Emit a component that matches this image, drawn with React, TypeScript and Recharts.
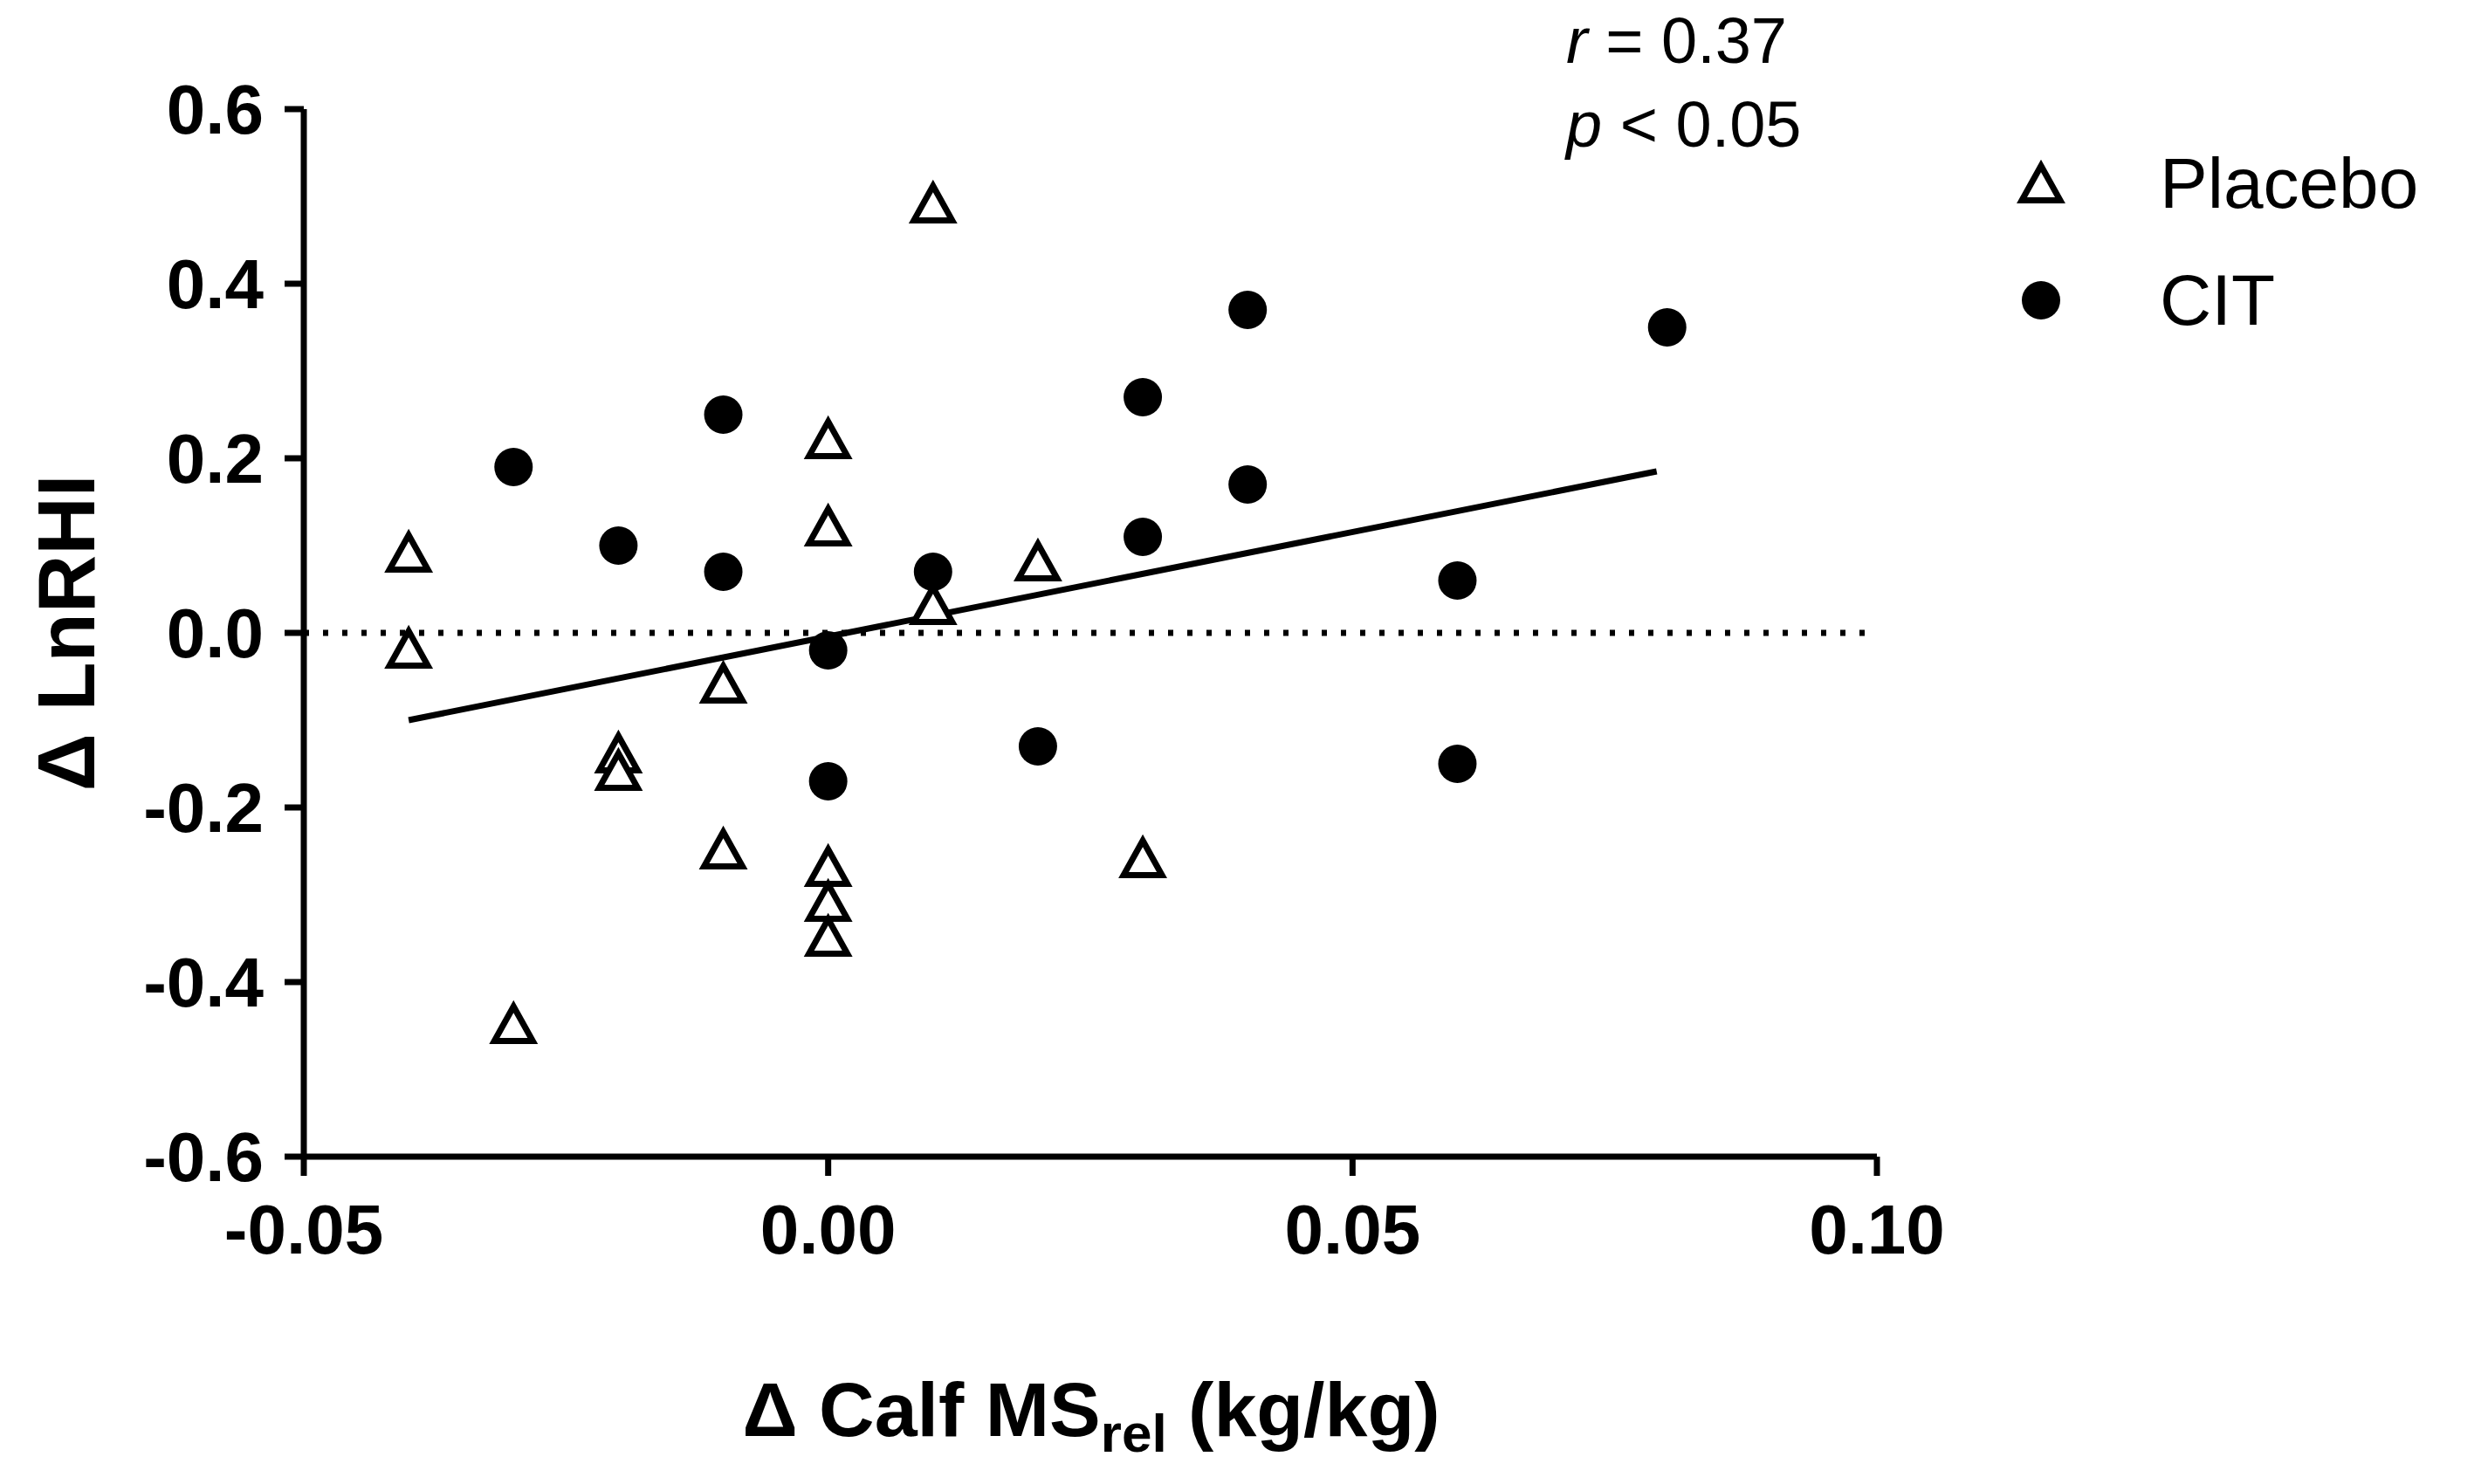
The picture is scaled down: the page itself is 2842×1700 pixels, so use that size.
import React from 'react';
import { ScatterChart, Scatter, XAxis, YAxis, ReferenceLine } from 'recharts';

const placebo = [
  { x: -0.04, y: 0.09 }, { x: -0.04, y: -0.02 }, { x: -0.03, y: -0.45 }, { x: -0.02, y: -0.14 },
  { x: -0.02, y: -0.16 }, { x: -0.01, y: -0.06 }, { x: -0.01, y: -0.25 }, { x: 0, y: 0.22 },
  { x: 0, y: 0.12 }, { x: 0, y: -0.27 }, { x: 0, y: -0.31 }, { x: 0, y: -0.35 },
  { x: 0.01, y: 0.49 }, { x: 0.01, y: 0.03 }, { x: 0.02, y: 0.08 }, { x: 0.03, y: -0.26 },
];
const cit = [
  { x: -0.03, y: 0.19 }, { x: -0.02, y: 0.10 }, { x: -0.01, y: 0.25 }, { x: -0.01, y: 0.07 },
  { x: 0, y: -0.02 }, { x: 0, y: -0.17 }, { x: 0.01, y: 0.07 }, { x: 0.02, y: -0.13 },
  { x: 0.03, y: 0.27 }, { x: 0.03, y: 0.11 }, { x: 0.04, y: 0.37 }, { x: 0.04, y: 0.17 },
  { x: 0.06, y: 0.06 }, { x: 0.06, y: -0.15 }, { x: 0.08, y: 0.35 },
];
const fitLine = [{ x: -0.04, y: -0.10 }, { x: 0.079, y: 0.185 }];
const xTicks = [-0.05, 0, 0.05, 0.1];
const yTicks = [-0.6, -0.4, -0.2, 0, 0.2, 0.4, 0.6];

const F = 'Liberation Sans, Arial, sans-serif';

const Tri = (p: any) => {
  const { cx, cy } = p;
  const s = 22;
  return <path d={`M${cx},${cy - s} L${cx + s},${cy + s * 0.8} L${cx - s},${cy + s * 0.8} Z`} fill="#fff" stroke="#000" strokeWidth={7} strokeLinejoin="miter" />;
};
const Dot = (p: any) => <circle cx={p.cx} cy={p.cy} r={22} fill="#000" />;

export default function App() {
  return (
    <div style={{ position: 'absolute', left: 0, top: 0, width: 2842, height: 1700, background: '#fff', fontFamily: F }}>
      <ScatterChart width={2842} height={1700} margin={{ top: 125, right: 692, bottom: 275, left: 148 }}>
        <XAxis type="number" dataKey="x" domain={[-0.05, 0.1]} ticks={xTicks} tickFormatter={(v: number) => v.toFixed(2)}
          axisLine={{ stroke: '#000', strokeWidth: 7 }} tickLine={{ stroke: '#000', strokeWidth: 7 }} tickSize={22} height={100}
          tick={{ fill: '#000', fontSize: 80, fontWeight: 'bold', fontFamily: F, dy: 30 }} allowDataOverflow />
        <YAxis type="number" dataKey="y" domain={[-0.6, 0.6]} ticks={yTicks} tickFormatter={(v: number) => v.toFixed(1)}
          axisLine={{ stroke: '#000', strokeWidth: 7 }} tickLine={{ stroke: '#000', strokeWidth: 7 }} tickSize={22} width={200}
          tick={{ fill: '#000', fontSize: 80, fontWeight: 'bold', fontFamily: F, dx: -22 }} allowDataOverflow />
        <ReferenceLine y={0} stroke="#000" strokeWidth={7} strokeDasharray="6 16" />
        <ReferenceLine segment={[fitLine[0], fitLine[1]]} stroke="#000" strokeWidth={7} />
        <Scatter data={placebo} shape={Tri} isAnimationActive={false} />
        <Scatter data={cit} shape={Dot} isAnimationActive={false} />
      </ScatterChart>
      <svg width={2842} height={1700} style={{ position: 'absolute', left: 0, top: 0, pointerEvents: 'none' }}>
        <text x={1794} y={72} fontSize={74} fontFamily={F}><tspan fontStyle="italic">r</tspan> = 0.37</text>
        <text x={1794} y={168} fontSize={74} fontFamily={F}><tspan fontStyle="italic">p</tspan> &lt; 0.05</text>
        <Tri cx={2338} cy={212} />
        <text x={2474} y={238} fontSize={82} fontFamily={F}>Placebo</text>
        <Dot cx={2338} cy={344} />
        <text x={2474} y={372} fontSize={82} fontFamily={F}>CIT</text>
        <text transform="translate(108,725) rotate(-90)" textAnchor="middle" fontSize={92} fontWeight="bold" fontFamily={F}>Δ LnRHI</text>
        <text x={1250} y={1645} textAnchor="middle" fontSize={88} fontWeight="bold" fontFamily={F}>Δ Calf MS<tspan fontSize={62} dy={18}>rel</tspan><tspan dy={-18}> (kg/kg)</tspan></text>
      </svg>
    </div>
  );
}
